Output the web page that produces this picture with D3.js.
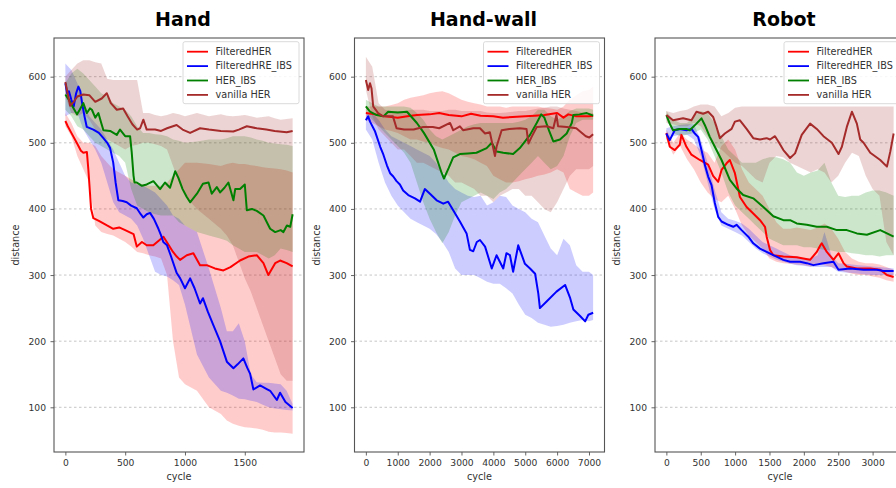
<!DOCTYPE html>
<html>
<head>
<meta charset="utf-8">
<script src="https://cdn.jsdelivr.net/npm/d3@7"></script>
<style>
  html, body { margin: 0; padding: 0; background: #fff; }
  svg { display: block; }
  text { font-family: "DejaVu Sans", sans-serif; }
</style>
</head>
<body>
<svg id="chart" width="896" height="488"></svg>
<script>
// ---------------- data ----------------
const titles = ["Hand", "Hand-wall", "Robot"];
const legendNames = [
  ["FilteredHER", "FilteredHRE_IBS", "HER_IBS", "vanilla HER"],
  ["FilteredHER", "FilteredHER_IBS", "HER_IBS", "vanilla HER"],
  ["FilteredHER", "FilteredHER_IBS", "HER_IBS", "vanilla HER"]
];
const yTicks = [100, 200, 300, 400, 500, 600];
const handXTicks = [0, 500, 1000, 1500];
const wallXTicks = [0, 1000, 2000, 3000, 4000, 5000, 6000, 7000];
const robotXTicks = [0, 500, 1000, 1500, 2000, 2500, 3000];

// Hand: mean curves as [cycle, distance]
const handRed = [[0,533],[20,525],[50,515],[95,500],[130,488],[150,485],[180,486],[192,460],[215,400],[234,386],[280,382],[348,375],[400,370],[450,372],[500,368],[570,362],[597,343],[640,350],[680,345],[735,345],[780,352],[820,358],[848,350],[900,335],[931,328],[959,323],[1015,330],[1070,333],[1126,315],[1182,315],[1250,310],[1321,307],[1380,312],[1460,322],[1530,328],[1600,330],[1656,318],[1697,300],[1754,318],[1795,322],[1850,318],[1900,313]];
const handBlue = [[0,590],[15,575],[30,578],[50,565],[70,555],[90,575],[109,585],[125,578],[140,560],[160,540],[179,524],[234,520],[280,515],[318,507],[350,500],[374,492],[400,470],[420,440],[443,413],[480,412],[513,410],[550,405],[597,401],[630,392],[652,387],[680,392],[708,394],[740,385],[778,370],[800,360],[819,350],[850,345],[880,330],[931,303],[960,295],[1000,280],[1043,295],[1080,280],[1126,257],[1150,265],[1190,245],[1238,224],[1293,200],[1350,169],[1405,159],[1440,165],[1488,174],[1520,160],[1544,151],[1572,127],[1628,133],[1680,128],[1712,125],[1768,111],[1795,122],[1840,108],[1900,99]];
const handGreen = [[0,573],[30,565],[60,555],[97,543],[120,550],[150,560],[180,545],[205,552],[222,550],[250,538],[276,545],[300,530],[318,519],[374,518],[430,512],[457,520],[500,510],[541,510],[555,485],[570,450],[578,440],[597,440],[640,435],[680,437],[736,442],[792,430],[833,440],[875,432],[918,457],[945,447],[980,430],[1015,418],[1043,410],[1100,423],[1150,438],[1197,440],[1224,423],[1266,433],[1294,425],[1330,432],[1363,440],[1405,413],[1420,430],[1460,430],[1500,437],[1517,398],[1560,400],[1600,397],[1656,390],[1712,370],[1754,365],[1800,368],[1823,365],[1852,375],[1880,373],[1900,392]];
const handBrown = [[0,592],[40,556],[70,562],[100,570],[150,573],[200,572],[250,562],[304,567],[346,575],[380,560],[430,550],[483,552],[520,540],[560,528],[600,520],[625,522],[652,535],[680,520],[750,520],[800,518],[850,522],[930,527],[980,520],[1043,515],[1126,522],[1200,520],[1300,518],[1404,517],[1450,520],[1517,525],[1600,522],[1680,520],[1750,518],[1850,516],[1900,518]];

// Hand: spread bands on a shared cycle grid
const handCycles = [0,50,100,150,200,250,300,350,400,450,500,550,600,650,700,750,800,850,900,950,1000,1100,1200,1300,1350,1400,1450,1500,1550,1600,1650,1700,1750,1800,1850,1900];
const handRedLo = [525,510,480,460,440,375,365,362,360,355,350,343,335,333,330,328,325,300,200,145,135,125,100,90,80,75,72,70,69,68,66,63,62,62,61,60];
const handRedHi = [545,530,510,500,500,495,480,470,460,455,450,445,440,437,435,435,435,440,450,460,470,470,468,465,468,470,468,468,466,465,463,462,461,460,458,455];
const handBlueLo = [540,545,545,520,505,490,470,440,410,395,390,385,375,355,330,305,300,298,292,285,255,180,145,125,122,118,113,112,110,108,104,100,98,97,96,95];
const handBlueHi = [620,610,590,560,540,530,520,505,490,470,450,440,437,435,430,425,415,405,390,385,375,365,310,250,215,215,227,200,150,138,137,137,136,135,125,105];
const handGreenLo = [550,540,525,520,510,500,495,490,485,480,470,430,405,400,395,392,390,390,390,380,375,365,360,355,352,345,340,335,335,335,330,325,330,340,338,335];
const handGreenHi = [590,605,612,605,595,585,575,570,560,555,550,540,525,515,515,513,512,510,505,503,500,502,505,505,507,510,510,510,508,505,503,500,499,498,497,495];
const handBrownLo = [570,545,540,545,535,520,510,505,500,495,490,495,497,500,500,498,495,490,465,440,420,400,385,370,360,345,320,295,275,250,225,200,175,150,140,140];
const handBrownHi = [600,610,620,625,625,622,620,597,595,595,595,595,595,545,545,542,540,542,545,543,540,545,540,543,541,540,541,542,540,538,539,540,537,535,536,537];

// Hand-wall: mean curves
const wallRed = [[0,545],[300,543],[600,540],[1000,538],[1300,540],[1600,542],[2000,543],[2300,545],[2600,542],[3000,540],[3300,544],[3600,541],[4000,540],[4300,538],[4600,539],[5000,540],[5300,541],[5600,542],[6000,545],[6200,538],[6350,543],[6600,540],[7000,540],[7130,541]];
const wallBlue = [[0,534],[73,540],[130,532],[290,517],[450,494],[550,482],[660,466],[760,454],[860,449],[962,442],[1067,437],[1170,428],[1330,421],[1540,416],[1700,411],[1850,430],[2010,423],[2220,413],[2430,408],[2580,411],[2740,398],[2950,381],[3160,363],[3264,338],[3370,336],[3480,350],[3580,353],[3740,343],[3950,310],[4100,330],[4310,310],[4410,333],[4520,330],[4620,305],[4780,345],[4990,317],[5150,310],[5310,302],[5410,272],[5460,250],[5670,260],[5980,275],[6250,285],[6410,265],[6510,248],[6720,238],[6880,230],[6980,240],[7130,243]];
const wallGreen = [[0,555],[130,547],[340,542],[550,540],[700,547],[1000,546],[1290,547],[1600,530],[1820,515],[2130,490],[2380,454],[2450,446],[2600,462],[2740,478],[2950,483],[3200,484],[3470,485],[3790,492],[3950,500],[4100,487],[4310,485],[4620,483],[4830,492],[5150,512],[5360,530],[5500,543],[5600,538],[5750,518],[5880,502],[6090,505],[6300,514],[6460,530],[6510,542],[6700,543],[6930,545],[7130,541]];
const wallBrown = [[0,595],[73,580],[130,590],[178,582],[230,555],[385,545],[540,540],[850,540],[963,522],[1200,520],[1500,520],[1800,524],[2100,524],[2300,522],[2640,530],[2740,519],[2950,525],[3050,519],[3370,522],[3580,522],[3740,514],[3890,516],[3960,500],[4050,480],[4100,494],[4260,519],[4500,521],[4830,522],[5040,521],[5100,499],[5200,509],[5360,524],[5670,525],[5880,522],[5980,542],[6030,525],[6300,524],[6600,522],[6900,510],[7010,508],[7130,513]];

const wallCycles = [0,200,400,600,800,1000,1200,1400,1600,1800,2000,2200,2400,2600,2800,3000,3200,3400,3600,3800,4000,4200,4400,4600,4800,5000,5200,5400,5600,5800,6000,6200,6400,6600,6800,7000,7130];
const wallRedLo = [535,530,525,520,518,515,510,505,505,502,500,495,492,490,485,480,478,475,470,465,450,445,440,440,442,445,447,450,452,455,460,455,430,425,420,420,425];
const wallRedHi = [555,555,555,555,557,560,565,568,570,572,575,577,578,575,570,565,562,560,558,555,555,555,553,555,555,555,555,555,553,552,550,555,565,572,578,580,585];
const wallBlueLo = [520,505,470,440,420,405,395,385,380,375,370,362,350,335,310,300,300,300,295,290,287,287,280,272,255,240,235,228,225,222,223,225,228,230,232,230,232];
const wallBlueHi = [545,545,535,520,510,505,500,495,490,485,480,470,455,440,430,425,420,418,420,405,410,420,418,405,400,395,385,380,360,340,330,355,345,315,305,305,300];
const wallGreenLo = [545,535,525,515,505,495,485,470,440,410,385,365,348,365,390,410,415,420,425,420,415,425,430,440,450,460,470,480,470,460,465,480,510,530,535,535,535];
const wallGreenHi = [565,560,555,555,555,555,555,553,545,535,520,510,505,510,515,520,525,528,530,530,530,530,530,530,532,535,540,550,550,540,535,540,548,552,552,552,550];
const wallBrownLo = [580,540,520,510,500,490,490,480,470,470,465,460,455,450,440,440,435,430,420,420,410,420,425,430,430,420,420,410,400,395,410,430,450,460,460,460,465];
const wallBrownHi = [630,615,560,550,548,548,548,550,550,550,548,548,548,550,550,548,548,548,548,546,545,545,546,547,548,548,550,552,553,555,555,552,550,548,546,545,545];

// Robot: mean curves
const robotRed = [[0,515],[50,494],[122,489],[195,497],[219,512],[292,494],[365,482],[486,474],[608,467],[680,450],[754,441],[803,459],[876,469],[923,474],[997,454],[1070,418],[1167,403],[1264,393],[1362,383],[1435,373],[1459,358],[1508,338],[1556,330],[1702,328],[1896,327],[2090,323],[2188,335],[2240,345],[2260,348],[2334,335],[2431,323],[2504,333],[2577,318],[2625,313],[2771,310],[2966,310],[3111,308],[3209,300],[3306,297]];
const robotBlue = [[0,514],[49,504],[122,519],[195,521],[292,519],[365,521],[414,514],[462,509],[511,489],[559,467],[608,449],[657,436],[705,409],[754,388],[803,381],[900,376],[973,373],[1021,376],[1094,368],[1192,358],[1264,348],[1362,340],[1459,335],[1556,330],[1702,323],[1800,320],[1945,320],[2042,318],[2139,315],[2285,318],[2431,320],[2504,308],[2674,310],[2869,308],[3063,308],[3160,306],[3306,306]];
const robotGreen = [[0,542],[49,529],[97,519],[195,521],[292,521],[340,519],[438,529],[511,537],[559,527],[632,509],[705,494],[803,474],[924,444],[1021,431],[1118,421],[1264,416],[1410,403],[1556,389],[1702,383],[1800,383],[1896,378],[2042,376],[2188,373],[2334,373],[2480,368],[2625,368],[2771,363],[2917,361],[3111,368],[3209,363],[3306,358]];
const robotBrown = [[0,542],[97,534],[243,537],[365,534],[438,547],[535,544],[608,547],[681,539],[730,524],[778,507],[851,514],[949,521],[997,532],[1070,534],[1167,521],[1264,507],[1362,505],[1459,507],[1508,505],[1580,510],[1629,502],[1702,489],[1800,477],[1872,484],[1969,512],[2091,529],[2188,521],[2285,510],[2407,500],[2504,483],[2553,494],[2625,524],[2699,547],[2771,529],[2820,505],[2869,500],[2966,485],[3111,474],[3209,464],[3258,487],[3306,514]];

const robotCycles = [0,100,200,300,400,500,600,700,800,900,1000,1100,1200,1300,1400,1500,1600,1700,1800,1900,2000,2100,2200,2300,2400,2500,2600,2700,2800,2900,3000,3100,3200,3306];
const robotRedLo = [505,482,495,475,460,440,425,415,410,420,400,375,360,350,340,325,320,318,317,316,315,313,318,315,312,308,305,302,300,300,298,296,292,290];
const robotRedHi = [520,500,515,505,498,490,485,470,495,505,490,460,440,430,420,400,380,370,370,372,370,368,372,378,370,355,335,325,320,318,318,316,312,308];
const robotBlueLo = [505,510,512,512,505,480,440,400,375,370,365,360,350,340,333,328,323,320,317,315,314,312,312,312,312,305,304,303,302,301,300,300,300,300];
const robotBlueHi = [522,525,527,528,528,505,470,430,395,385,382,378,370,360,350,345,340,335,330,328,325,325,330,365,330,318,317,316,315,314,313,312,311,310];
const robotGreenLo = [535,515,510,512,515,520,505,480,455,425,405,395,385,375,365,355,350,345,345,345,342,342,340,338,337,335,335,333,332,330,330,328,330,330];
const robotGreenHi = [548,535,530,530,540,548,545,530,510,490,480,470,470,470,475,478,478,475,470,455,450,455,458,470,440,420,418,420,420,425,428,428,425,420];
const robotBrownLo = [530,528,525,525,530,525,510,495,490,480,470,465,455,445,440,470,480,478,470,465,460,455,460,455,440,450,470,485,480,450,430,420,350,330];
const robotBrownHi = [548,545,548,550,555,558,558,555,540,545,553,555,555,555,555,555,555,555,555,555,555,555,555,555,555,555,555,555,555,555,555,555,555,555];

// ---------------- layout / style ----------------
const seriesColors = ["#ff0000", "#0000ff", "#008000", "#a52a2a"];
const plotTop = 38, plotBottom = 452, plotWidth = 250;

const panels = [
  { left: 54, xMax: 1900, xTicks: handXTicks,
    means: [handRed, handBlue, handGreen, handBrown],
    cycles: handCycles,
    bands: [[handRedLo, handRedHi], [handBlueLo, handBlueHi], [handGreenLo, handGreenHi], [handBrownLo, handBrownHi]] },
  { left: 354.5, xMax: 7130, xTicks: wallXTicks,
    means: [wallRed, wallBlue, wallGreen, wallBrown],
    cycles: wallCycles,
    bands: [[wallRedLo, wallRedHi], [wallBlueLo, wallBlueHi], [wallGreenLo, wallGreenHi], [wallBrownLo, wallBrownHi]] },
  { left: 655, xMax: 3306, xTicks: robotXTicks,
    means: [robotRed, robotBlue, robotGreen, robotBrown],
    cycles: robotCycles,
    bands: [[robotRedLo, robotRedHi], [robotBlueLo, robotBlueHi], [robotGreenLo, robotGreenHi], [robotBrownLo, robotBrownHi]] }
];

const svg = d3.select("#chart");

// shared distance scale (matplotlib-style 5% margins)
const y = d3.scaleLinear().domain([32.4, 658.5]).range([plotBottom, plotTop]);

panels.forEach((p, pi) => {
  const margin = p.xMax * 0.05;
  const x = d3.scaleLinear()
    .domain([-margin, p.xMax + margin])
    .range([p.left, p.left + plotWidth]);

  const g = svg.append("g");
  const clipId = "clip" + pi;
  g.append("clipPath").attr("id", clipId)
    .append("rect")
    .attr("x", p.left).attr("y", plotTop)
    .attr("width", plotWidth).attr("height", plotBottom - plotTop);

  // horizontal dashed grid
  g.append("g").selectAll("line").data(yTicks).join("line")
    .attr("x1", p.left).attr("x2", p.left + plotWidth)
    .attr("y1", d => y(d)).attr("y2", d => y(d))
    .attr("stroke", "#b8b8b8").attr("stroke-width", 0.8)
    .attr("stroke-dasharray", "2.5,2.5");

  const plot = g.append("g").attr("clip-path", `url(#${clipId})`);

  // spread bands
  p.bands.forEach(([lo, hi], si) => {
    const rows = p.cycles.map((c, i) => ({ c, lo: lo[i], hi: hi[i] }));
    const area = d3.area()
      .x(d => x(d.c)).y0(d => y(d.lo)).y1(d => y(d.hi));
    plot.append("path").datum(rows)
      .attr("d", area)
      .attr("fill", seriesColors[si])
      .attr("fill-opacity", 0.2);
  });

  // mean curves
  const line = d3.line().x(d => x(d[0])).y(d => y(d[1]));
  p.means.forEach((m, si) => {
    plot.append("path").datum(m)
      .attr("d", line)
      .attr("fill", "none")
      .attr("stroke", seriesColors[si])
      .attr("stroke-width", 2)
      .attr("stroke-linejoin", "round");
  });

  // frame
  g.append("rect")
    .attr("x", p.left).attr("y", plotTop)
    .attr("width", plotWidth).attr("height", plotBottom - plotTop)
    .attr("fill", "none").attr("stroke", "#555").attr("stroke-width", 1.1);

  // axes
  const xAxis = g.append("g")
    .attr("transform", `translate(0,${plotBottom})`)
    .call(d3.axisBottom(x).tickValues(p.xTicks).tickFormat(d3.format("d"))
      .tickSize(3.5).tickPadding(3.5));
  const yAxis = g.append("g")
    .attr("transform", `translate(${p.left},0)`)
    .call(d3.axisLeft(y).tickValues(yTicks).tickFormat(d3.format("d"))
      .tickSize(3.5).tickPadding(4.5));
  [xAxis, yAxis].forEach(a => {
    a.select(".domain").remove();
    a.selectAll(".tick line").attr("stroke", "#555").attr("stroke-width", 0.9);
    a.selectAll(".tick text")
      .attr("fill", "#333").attr("font-size", 9.2)
      .attr("font-family", "DejaVu Sans, sans-serif");
  });

  // axis labels
  g.append("text")
    .attr("x", p.left + plotWidth / 2).attr("y", 480)
    .attr("text-anchor", "middle").attr("font-size", 9.7).attr("fill", "#333")
    .text("cycle");
  g.append("text")
    .attr("transform", `translate(${p.left - 35},${(plotTop + plotBottom) / 2}) rotate(-90)`)
    .attr("text-anchor", "middle").attr("font-size", 9.7).attr("fill", "#333")
    .text("distance");

  // title
  g.append("text")
    .attr("x", p.left + plotWidth / 2 + 4).attr("y", 26)
    .attr("text-anchor", "middle")
    .attr("font-family", "'Open Sans', sans-serif")
    .attr("font-weight", 700).attr("font-size", 19).attr("fill", "#000")
    .text(titles[pi]);

  // legend
  const lx = p.left + plotWidth - 121, ly = 41.7;
  const leg = g.append("g");
  leg.append("rect")
    .attr("x", lx).attr("y", ly).attr("width", 116).attr("height", 62)
    .attr("rx", 2).attr("fill", "#fff").attr("fill-opacity", 0.85)
    .attr("stroke", "#d0d0d0").attr("stroke-width", 0.8);
  legendNames[pi].forEach((name, si) => {
    const ry = ly + 10 + si * 14.4;
    leg.append("line")
      .attr("x1", lx + 4).attr("x2", lx + 25)
      .attr("y1", ry).attr("y2", ry)
      .attr("stroke", seriesColors[si]).attr("stroke-width", 1.8);
    leg.append("text")
      .attr("x", lx + 32.5).attr("y", ry).attr("dy", "0.35em")
      .attr("font-size", 9.7).attr("fill", "#333")
      .text(name);
  });
});
</script>
</body>
</html>
